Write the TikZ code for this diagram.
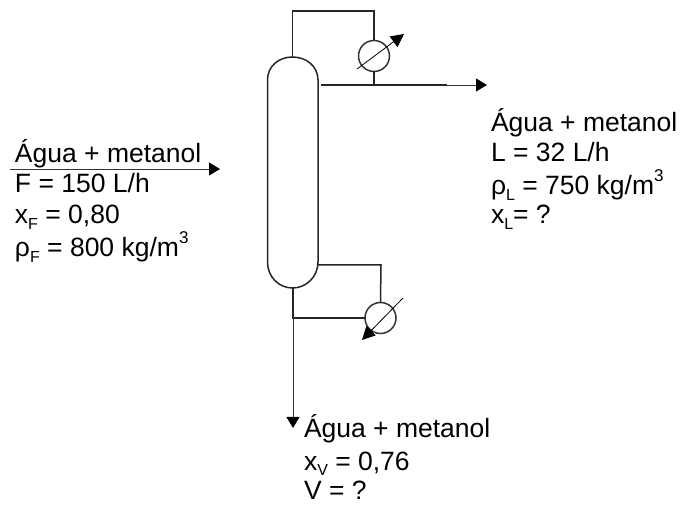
\documentclass[tikz,border=0pt]{standalone}
\usepackage{fontspec}
\setmainfont{Liberation Sans}
\usetikzlibrary{arrows.meta}
\newcommand{\lowtxt}[1]{\raisebox{-0.2em}{\fontsize{16}{16}\selectfont #1}}
\newcommand{\hightxt}[1]{\raisebox{0.5em}{\fontsize{17}{17}\selectfont #1}}
\tikzset{
  x=1pt,y=-1pt,
  lbl/.style={anchor=base west,inner sep=0pt,outer sep=0pt,font=\fontsize{26.5}{28}\selectfont},
  pipe/.style={draw=black!85,line width=1.5pt},
  thin line/.style={draw=black!80,line width=0.8pt},
  flow/.style={thin line,-{Triangle[length=11pt,width=13pt,color=black]}},
  adj/.style={draw=black,line width=0.8pt,-{Triangle[length=13pt,width=13pt]}},
  hx/.style={circle,draw=black!80,line width=1.5pt,minimum size=31pt,inner sep=0pt,outer sep=0pt},
}
\begin{document}
\begin{tikzpicture}
\useasboundingbox (0,0) rectangle (681,505);
% column
\coordinate (colTL) at (267.5,80);
\coordinate (colTR) at (318,80);
\coordinate (colBL) at (267.5,262);
\coordinate (colBR) at (318,262);
\coordinate (colT) at (292.5,57);
\coordinate (colB) at (292.5,288);
\draw[pipe] (colBL) -- (colTL) .. controls (267.5,66) and (279,57) .. (colT)
  .. controls (306,57) and (318,66) .. (colTR) -- (colBR)
  .. controls (318,277) and (306,288) .. (colB)
  .. controls (279,288) and (267.5,277) .. (colBL) -- cycle;
% exchangers
\node[hx] (cond) at (374,56) {};
\node[hx] (reb) at (380.5,318) {};
% top
\coordinate (topL) at (292.5,11);
\coordinate (topR) at (374,11);
\coordinate (distS) at (321,85);
\coordinate (distJ) at (374,85);
\coordinate (distE) at (447,85);
\coordinate (distT) at (487,85);
\draw[pipe] (colT) -- (topL) -- (topR) -- (cond.north);
\draw[pipe] (cond.south) -- (distJ);
\draw[pipe] (distS) -- (distE);
\draw[flow] (distE) -- (distT);
\coordinate (condA) at (357,69);
\coordinate (condB) at (404,34);
\draw[adj] (condA) -- (condB);
% bottom
\coordinate (rebR) at (318,265);
\coordinate (rebC) at (381,265);
\coordinate (botJ) at (293,318);
\coordinate (botT) at (293,428);
\draw[pipe] (rebR) -- (rebC) -- (reb.north);
\draw[pipe] (colB -| botJ) -- (botJ) -- (reb.west);
\draw[flow] (botJ) -- (botT);
\coordinate (rebA) at (403,298);
\coordinate (rebB) at (362,340);
\draw[adj] (rebA) -- (rebB);
% feed
\coordinate (feedS) at (10,169);
\coordinate (feedT) at (220,169);
\draw[flow] (feedS) -- (feedT);
% left text
\node[lbl] (f1) at (15,163) {Água + metanol};
\node[lbl] (f2) at (15,193) {F = 150 L/h};
\node[lbl] (f3) at (15,224) {x\lowtxt{F} = 0,80};
\node[lbl] (f4) at (15,257) {ρ\lowtxt{F} = 800 kg/m\hightxt{3}};
% right text
\node[lbl] (l1) at (491,132) {Água + metanol};
\node[lbl] (l2) at (491,162) {L = 32 L/h};
\node[lbl] (l3) at (491,195) {ρ\lowtxt{L} = 750 kg/m\hightxt{3}};
\node[lbl] (l4) at (491,224) {x\lowtxt{L}= ?};
% bottom text
\node[lbl] (v1) at (304,438) {Água + metanol};
\node[lbl] (v2) at (304,470) {x\lowtxt{V} = 0,76};
\node[lbl] (v3) at (304,500) {V = ?};
\end{tikzpicture}
\end{document}
